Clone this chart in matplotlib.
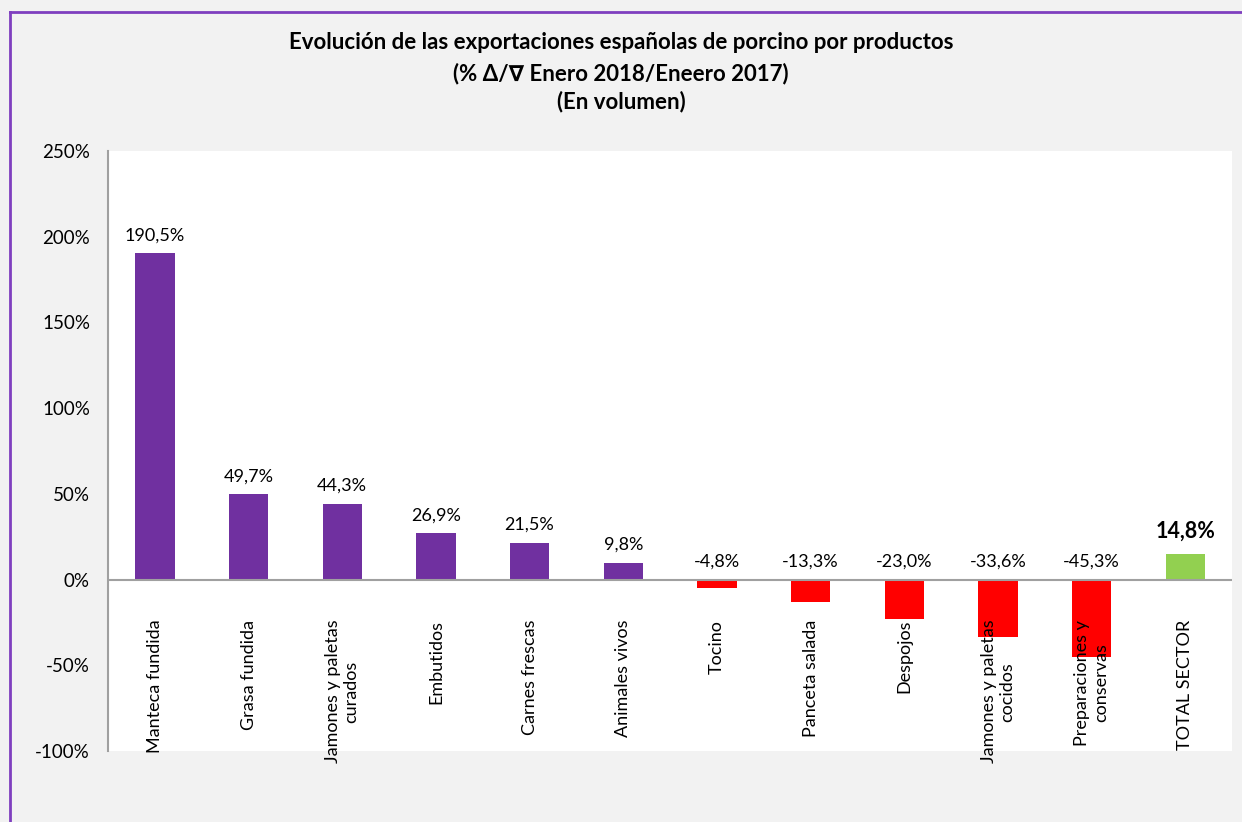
import matplotlib.pyplot as plt
from matplotlib.lines import Line2D

plt.rcParams['font.family'] = ['Lato', 'DejaVu Sans']

categories = ['Manteca fundida', 'Grasa fundida', 'Jamones y paletas\ncurados',
              'Embutidos', 'Carnes frescas', 'Animales vivos', 'Tocino',
              'Panceta salada', 'Despojos', 'Jamones y paletas\ncocidos',
              'Preparaciones y\nconservas', 'TOTAL SECTOR']
values = [190.5, 49.7, 44.3, 26.9, 21.5, 9.8, -4.8, -13.3, -23.0, -33.6, -45.3, 14.8]
yticks = [-100, -50, 0, 50, 100, 150, 200, 250]

purple = '#7030a0'
red = '#ff0000'
green = '#92d050'
colors = [green if c == 'TOTAL SECTOR' else (purple if v >= 0 else red)
          for c, v in zip(categories, values)]

fig = plt.figure(figsize=(12.42, 8.22), dpi=100, facecolor='#f2f2f2')
ax = fig.add_axes([0.087, 0.0864, 0.905, 0.730])
ax.set_facecolor('white')

x = range(len(categories))
ax.bar(x, values, width=0.42, color=colors, zorder=2)
ax.axhline(0, color='#a0a0a0', lw=1.5, zorder=3)

ax.set_xlim(-0.5, len(categories) - 0.5)
ax.set_ylim(-100, 250)
ax.set_yticks(yticks)
ax.set_yticklabels([f'{t}%' for t in yticks], fontsize=13.5)
ax.tick_params(axis='y', length=0, pad=13)
ax.set_xticks([])
for s in ['top', 'right', 'bottom']:
    ax.spines[s].set_visible(False)
ax.spines['left'].set_color('#a0a0a0')
ax.spines['left'].set_linewidth(1.5)

# value labels
for i, (c, v) in enumerate(zip(categories, values)):
    txt = f'{v:.1f}%'.replace('.', ',')
    if c == 'TOTAL SECTOR':
        ax.annotate(txt, (i, max(v, 0)), xytext=(0, 9), textcoords='offset points',
                    ha='center', va='bottom', fontsize=15.5, fontweight='bold', zorder=4)
    else:
        ax.annotate(txt, (i, max(v, 0)), xytext=(0, 7), textcoords='offset points',
                    ha='center', va='bottom', fontsize=13, zorder=4)

# category labels inside the plot area, below zero line
for i, c in enumerate(categories):
    ax.text(i, -23.5, c, rotation=90, ha='center', va='top',
            multialignment='center', fontsize=13, zorder=4, clip_on=False)

fig.text(0.5, 0.948, 'Evolución de las exportaciones españolas de porcino por productos',
         ha='center', va='center', fontsize=16, fontweight='bold')
fig.text(0.5, 0.911, '(% \u0394/\u2207 Enero 2018/Eneero 2017)',
         ha='center', va='center', fontsize=16, fontweight='bold')
fig.text(0.5, 0.877, '(En volumen)', ha='center', va='center', fontsize=16, fontweight='bold')

# outer purple frame
frame = '#7f3fbf'
fig.add_artist(Line2D([10 / 1242, 10 / 1242], [0, 1 - 12 / 822], color=frame, lw=2,
                      transform=fig.transFigure))
fig.add_artist(Line2D([10 / 1242, 1], [1 - 12 / 822, 1 - 12 / 822], color=frame, lw=2,
                      transform=fig.transFigure))

fig.savefig('out.png', dpi=100, facecolor=fig.get_facecolor())
